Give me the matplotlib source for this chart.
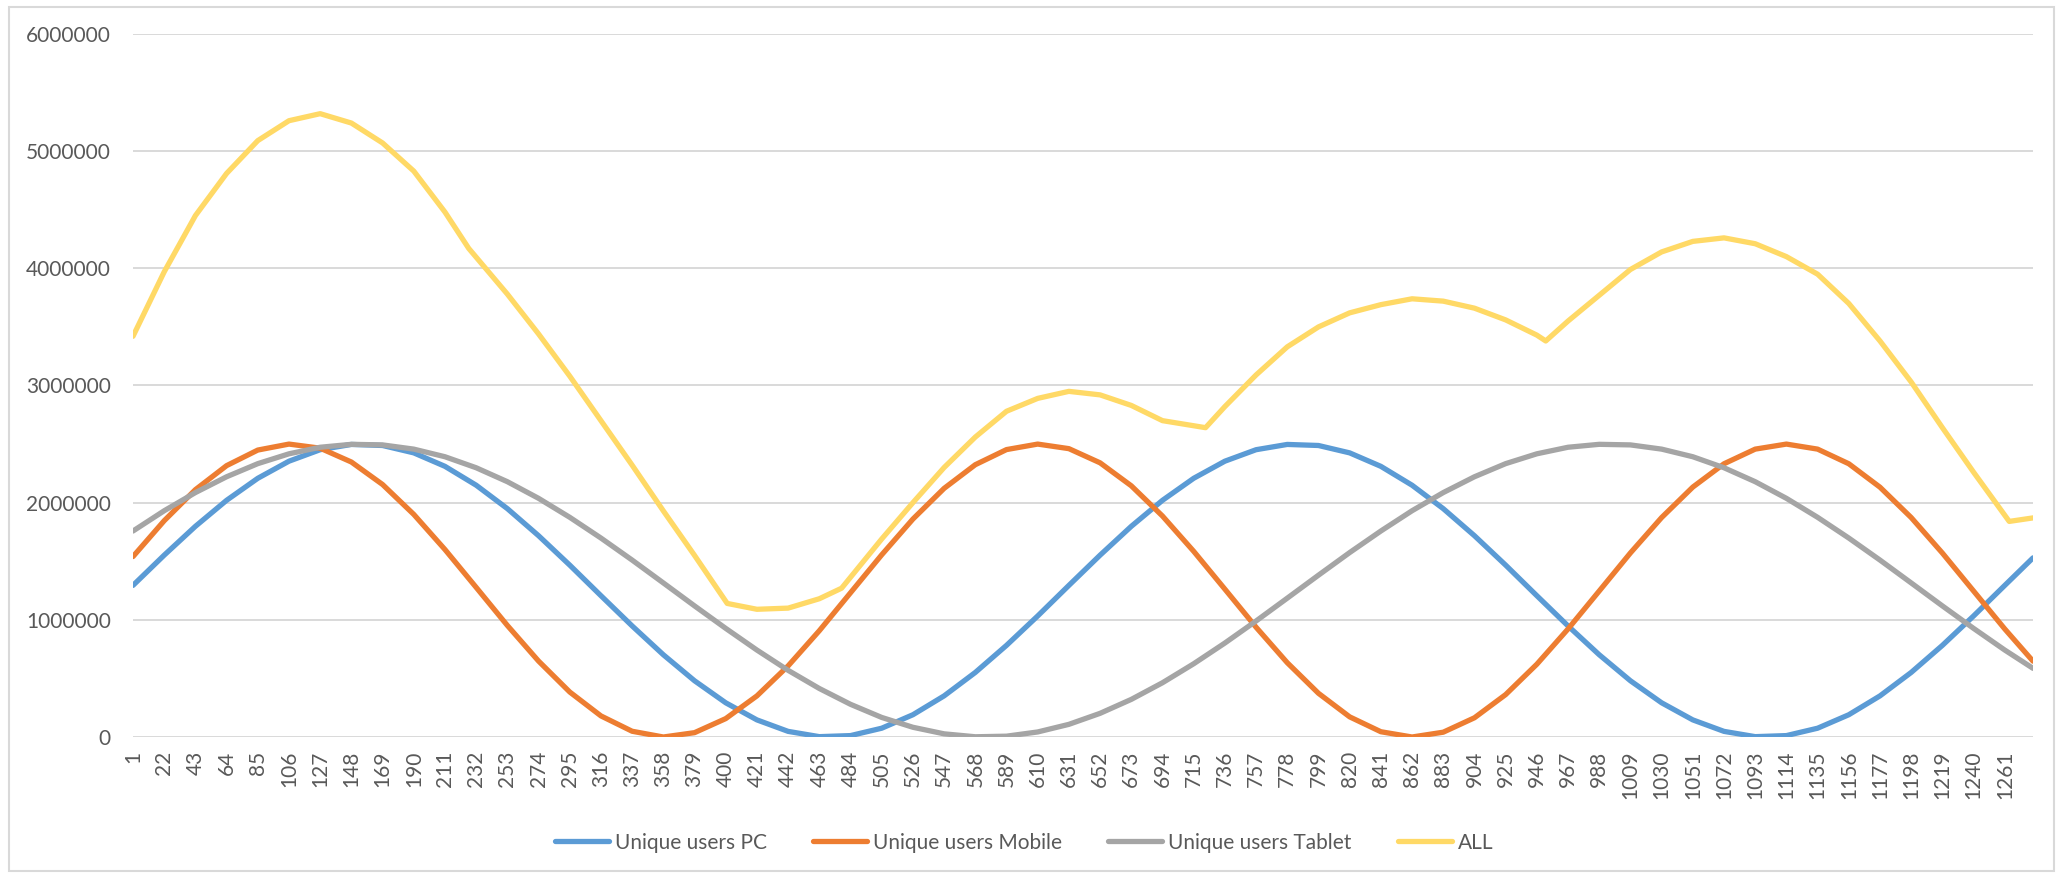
import matplotlib.pyplot as plt
import matplotlib.patches as mpatches

# category positions where the values were read (tick categories + end)
cats = [1, 22, 43, 64, 85, 106, 127, 148, 169, 190, 211, 232, 253, 274, 295, 316,
        337, 358, 379, 400, 421, 442, 463, 484, 505, 526, 547, 568, 589, 610, 631,
        652, 673, 694, 715, 736, 757, 778, 799, 820, 841, 862, 883, 904, 925, 946,
        967, 988, 1009, 1030, 1051, 1072, 1093, 1114, 1135, 1156, 1177, 1198, 1219,
        1240, 1261, 1280]

pc = [1.294, 1.552, 1.798, 2.020, 2.208, 2.354, 2.452, 2.497, 2.488, 2.425, 2.310,
      2.149, 1.949, 1.718, 1.467, 1.206, 0.948, 0.702, 0.480, 0.292, 0.146, 0.048,
      0.003, 0.012, 0.075, 0.190, 0.351, 0.551, 0.782, 1.033, 1.294, 1.552, 1.798,
      2.020, 2.208, 2.354, 2.452, 2.497, 2.488, 2.425, 2.310, 2.149, 1.949, 1.718,
      1.467, 1.206, 0.948, 0.702, 0.480, 0.292, 0.146, 0.048, 0.003, 0.012, 0.075,
      0.190, 0.351, 0.551, 0.782, 1.033, 1.294, 1.529]

mobile = [1.540, 1.846, 2.111, 2.316, 2.449, 2.500, 2.465, 2.347, 2.155, 1.900, 1.600,
          1.277, 0.952, 0.648, 0.384, 0.180, 0.049, 0.000, 0.037, 0.157, 0.351, 0.607,
          0.907, 1.231, 1.555, 1.860, 2.122, 2.324, 2.453, 2.500, 2.461, 2.340, 2.144,
          1.886, 1.585, 1.262, 0.937, 0.634, 0.373, 0.172, 0.045, 0.000, 0.041, 0.164,
          0.362, 0.621, 0.922, 1.246, 1.571, 1.873, 2.133, 2.332, 2.457, 2.500, 2.457,
          2.332, 2.132, 1.873, 1.570, 1.246, 0.922, 0.647]

tablet = [1.758, 1.931, 2.086, 2.221, 2.333, 2.417, 2.473, 2.498, 2.493, 2.457, 2.392,
          2.298, 2.179, 2.037, 1.875, 1.698, 1.510, 1.315, 1.119, 0.927, 0.742, 0.569,
          0.414, 0.279, 0.167, 0.083, 0.027, 0.002, 0.007, 0.043, 0.108, 0.202, 0.321,
          0.463, 0.625, 0.802, 0.990, 1.185, 1.381, 1.574, 1.758, 1.931, 2.086, 2.221,
          2.333, 2.417, 2.473, 2.498, 2.493, 2.457, 2.392, 2.298, 2.179, 2.037, 1.875,
          1.698, 1.510, 1.315, 1.119, 0.927, 0.742, 0.586]

# ALL has its own read points (includes the kinks)
all_cats = [1, 22, 43, 64, 85, 106, 127, 148, 169, 190, 211, 227, 253, 274, 295, 316,
            337, 358, 379, 401, 421, 442, 463, 478, 505, 526, 547, 568, 589, 610, 631,
            652, 673, 694, 723, 736, 757, 778, 799, 820, 841, 862, 883, 904, 925, 946,
            952, 967, 988, 1009, 1030, 1051, 1072, 1093, 1114, 1135, 1156, 1177, 1198,
            1219, 1240, 1264, 1280]
all_vals = [3.42, 3.97, 4.45, 4.81, 5.09, 5.26, 5.32, 5.24, 5.07, 4.83, 4.48, 4.17,
            3.78, 3.44, 3.08, 2.70, 2.32, 1.93, 1.55, 1.14, 1.09, 1.10, 1.18, 1.27,
            1.69, 2.00, 2.30, 2.56, 2.78, 2.89, 2.95, 2.92, 2.83, 2.70, 2.64, 2.82,
            3.09, 3.33, 3.50, 3.62, 3.69, 3.74, 3.72, 3.66, 3.56, 3.43, 3.38, 3.55,
            3.77, 3.99, 4.14, 4.23, 4.26, 4.21, 4.10, 3.95, 3.70, 3.38, 3.03, 2.64,
            2.26, 1.84, 1.87]

labels = ["Unique users PC", "Unique users Mobile", "Unique users Tablet", "ALL"]
colors = ["#5B9BD5", "#ED7D31", "#A5A5A5", "#FFD966"]

plt.rcParams["font.family"] = ["Lato", "DejaVu Sans"]

fig = plt.figure(figsize=(20.69, 8.76), dpi=100)
ax = fig.add_axes([133 / 2069, 1 - 737 / 876, (2033 - 133) / 2069, (737 - 34) / 876])

series = [(cats, pc), (cats, mobile), (cats, tablet), (all_cats, all_vals)]
for (xs, ys), lab, col in zip(series, labels, colors):
    ax.plot(xs, [v * 1e6 for v in ys], color=col, lw=3.8, label=lab,
            solid_capstyle="round", solid_joinstyle="round")

ax.set_xlim(1, 1280)
ax.set_ylim(0, 6000000)
ax.set_yticks(range(0, 6000001, 1000000))
ax.set_yticklabels([str(v) for v in range(0, 6000001, 1000000)])
ax.set_xticks(cats[:-1])
ax.set_xticklabels([str(c) for c in cats[:-1]], rotation=90)
ax.tick_params(axis="both", length=0, labelsize=15, colors="#595959")
ax.tick_params(axis="y", pad=16)
ax.tick_params(axis="x", pad=10)
ax.grid(axis="y", color="#D9D9D9", lw=1.4)
ax.set_axisbelow(True)
for s in ax.spines.values():
    s.set_visible(False)

fig.legend(loc="center", bbox_to_anchor=(0.495, 0.038), ncol=4, frameon=False,
           fontsize=15, labelcolor="#595959", handlelength=2.6, handletextpad=0.3,
           columnspacing=2.2)

fig.patches.append(mpatches.Rectangle((9 / 2069, 5 / 876), 2045 / 2069, 864 / 876,
                                      transform=fig.transFigure, fill=False,
                                      edgecolor="#D9D9D9", lw=1.5))

plt.savefig("out.png")
